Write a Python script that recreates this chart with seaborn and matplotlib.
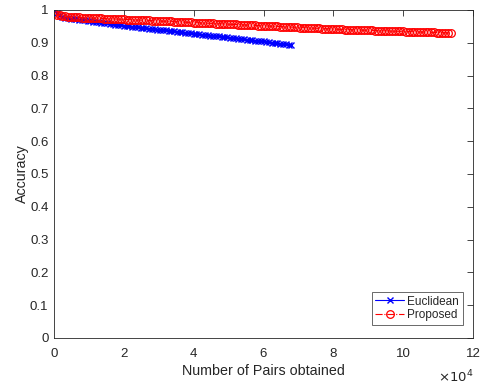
import numpy as np
import matplotlib
matplotlib.use("Agg")
import matplotlib.pyplot as plt
import seaborn as sns

euclid_acc = [1.0000, 0.9900, 0.9840, 0.9800, 0.9770, 0.9750, 0.9740, 0.9730, 0.9718, 0.9707,
              0.9695, 0.9683, 0.9672, 0.9660, 0.9648, 0.9637, 0.9625, 0.9613, 0.9602, 0.9590,
              0.9578, 0.9567, 0.9555, 0.9543, 0.9532, 0.9520, 0.9510, 0.9501, 0.9491, 0.9482,
              0.9472, 0.9462, 0.9453, 0.9443, 0.9434, 0.9424, 0.9414, 0.9405, 0.9395, 0.9386,
              0.9376, 0.9366, 0.9357, 0.9347, 0.9338, 0.9328, 0.9318, 0.9309, 0.9299, 0.9290,
              0.9280, 0.9270, 0.9261, 0.9251, 0.9242, 0.9232, 0.9222, 0.9213, 0.9203, 0.9194,
              0.9184, 0.9174, 0.9165, 0.9155, 0.9146, 0.9136, 0.9126, 0.9117, 0.9107, 0.9098,
              0.9088, 0.9078, 0.9069, 0.9059, 0.9050, 0.9040, 0.9029, 0.9018, 0.9007, 0.8996,
              0.8985, 0.8974, 0.8963, 0.8952, 0.8941, 0.8930]

proposed_acc = [0.9900, 0.9860, 0.9835, 0.9820, 0.9810, 0.9800, 0.9793, 0.9786, 0.9780, 0.9775,
                0.9770, 0.9766, 0.9763, 0.9759, 0.9755, 0.9751, 0.9748, 0.9744, 0.9740, 0.9736,
                0.9733, 0.9729, 0.9725, 0.9721, 0.9718, 0.9714, 0.9710, 0.9706, 0.9703, 0.9699,
                0.9695, 0.9691, 0.9688, 0.9684, 0.9680, 0.9676, 0.9673, 0.9669, 0.9665, 0.9661,
                0.9658, 0.9654, 0.9650, 0.9646, 0.9642, 0.9638, 0.9634, 0.9630, 0.9626, 0.9622,
                0.9618, 0.9614, 0.9610, 0.9606, 0.9602, 0.9598, 0.9594, 0.9590, 0.9586, 0.9582,
                0.9578, 0.9574, 0.9570, 0.9566, 0.9562, 0.9558, 0.9554, 0.9550, 0.9546, 0.9542,
                0.9538, 0.9534, 0.9530, 0.9526, 0.9522, 0.9518, 0.9514, 0.9510, 0.9506, 0.9502,
                0.9498, 0.9494, 0.9490, 0.9486, 0.9482, 0.9478, 0.9474, 0.9470, 0.9466, 0.9462,
                0.9458, 0.9454, 0.9450, 0.9446, 0.9442, 0.9438, 0.9434, 0.9430, 0.9426, 0.9422,
                0.9418, 0.9414, 0.9410, 0.9407, 0.9405, 0.9402, 0.9399, 0.9396, 0.9394, 0.9391,
                0.9388, 0.9385, 0.9383, 0.9380, 0.9377, 0.9374, 0.9372, 0.9369, 0.9366, 0.9363,
                0.9361, 0.9358, 0.9355, 0.9352, 0.9350, 0.9347, 0.9344, 0.9341, 0.9339, 0.9336,
                0.9333, 0.9330, 0.9328, 0.9325, 0.9322, 0.9319, 0.9317, 0.9314, 0.9311, 0.9308,
                0.9306, 0.9303, 0.9300]

pair_step = 800  # pairs between successive measurements
euclid_pairs = np.arange(len(euclid_acc)) * pair_step
proposed_pairs = np.arange(len(proposed_acc)) * pair_step

x_ticks = [0, 20000, 40000, 60000, 80000, 100000, 120000]
x_ticklabels = ["0", "2", "4", "6", "8", "10", "12"]
y_ticks = [0, 0.1, 0.2, 0.3, 0.4, 0.5, 0.6, 0.7, 0.8, 0.9, 1.0]
y_ticklabels = ["0", "0.1", "0.2", "0.3", "0.4", "0.5", "0.6", "0.7", "0.8", "0.9", "1"]

sns.set_style("white")
plt.rcParams['font.family'] = ['Liberation Sans', 'DejaVu Sans']

fig = plt.figure(figsize=(4.82, 3.87), dpi=100)
ax = fig.add_axes([54/482, 1 - 338/387, (473-54)/482, (338-10)/387])

sns.lineplot(x=euclid_pairs, y=euclid_acc, ax=ax, color=(0, 0, 1), marker='x',
             markersize=5, markeredgewidth=1.0, linewidth=0.8, label='Euclidean',
             markeredgecolor=(0, 0, 1))
sns.lineplot(x=proposed_pairs, y=proposed_acc, ax=ax, color=(1, 0, 0), marker='o',
             markersize=5.5, markerfacecolor='none', markeredgecolor=(1, 0, 0),
             markeredgewidth=0.9, linewidth=0.8, linestyle='-.', label='Proposed')

axc = '0.15'
ax.set_xlim(0, 120000)
ax.set_ylim(0, 1)
ax.set_xticks(x_ticks)
ax.set_xticklabels(x_ticklabels)
ax.set_yticks(y_ticks)
ax.set_yticklabels(y_ticklabels)
ax.tick_params(direction='in', length=4, width=0.6, colors=axc, labelsize=9.5,
               top=True, right=True, labelcolor='0.15')
ax.tick_params(axis='x', pad=7)
ax.tick_params(axis='y', pad=4)
for s in ax.spines.values():
    s.set_visible(True)
    s.set_color(axc)
    s.set_linewidth(0.6)
ax.set_xlabel("Number of Pairs obtained", fontsize=10.3, color='0.15', labelpad=3)
ax.set_ylabel("Accuracy", fontsize=10.3, color='0.15', labelpad=1)
ax.text(1.0, -0.095, r"$\times10^{4}$", transform=ax.transAxes, ha='right', va='top',
        fontsize=9.5, color='0.15')

leg = ax.legend(loc='lower right', bbox_to_anchor=(0.975, 0.04), fontsize=8.5,
                frameon=True, fancybox=False, handlelength=2.4, borderpad=0.3,
                labelspacing=0.15, handletextpad=0.3, borderaxespad=0)
leg.get_frame().set_edgecolor('0.15')
leg.get_frame().set_linewidth(0.6)

fig.savefig("out.png", dpi=100)
